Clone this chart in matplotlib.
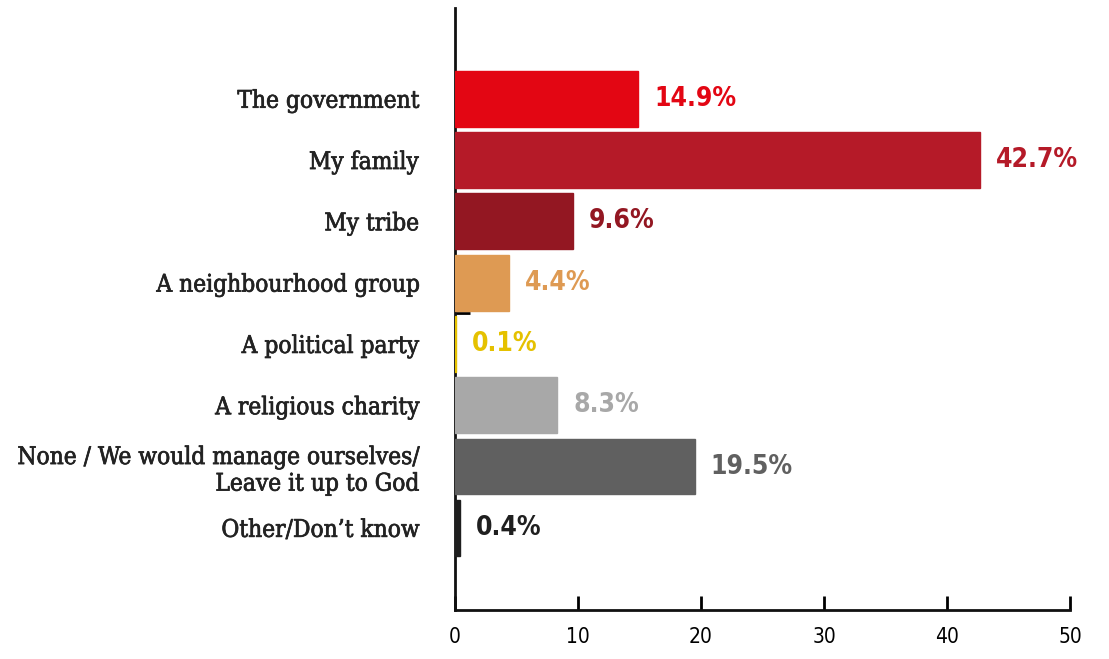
import matplotlib
matplotlib.use("Agg")
import matplotlib.pyplot as plt
import matplotlib.patheffects as pe

categories = [
    "The government",
    "My family",
    "My tribe",
    "A neighbourhood group",
    "A political party",
    "A religious charity",
    "None / We would manage ourselves/\nLeave it up to God",
    "Other/Don\u2019t know",
]
values = [14.9, 42.7, 9.6, 4.4, 0.1, 8.3, 19.5, 0.4]
bar_colors = ["#e30613", "#b51a28", "#931722", "#de9a53",
              "#e5c100", "#a8a8a8", "#606060", "#1f1f1f"]
x_ticks = [0, 10, 20, 30, 40, 50]

label_font = "DejaVu Serif"
num_font = "DejaVu Sans"

fig = plt.figure(figsize=(11.09, 6.59), dpi=100)
ax = fig.add_axes([455 / 1109, 1 - 610 / 659, 615 / 1109, 602 / 659])

pos = list(range(len(categories)))
ax.barh(pos, values, height=0.91, color=bar_colors, edgecolor=bar_colors,
        linewidth=1, zorder=3)

for p, v, c in zip(pos, values, bar_colors):
    ax.text(v + 1.3, p, f"{v}%", va="center", ha="left", color=c,
            fontsize=19, fontweight="bold", family=num_font,
            fontstretch="condensed")

ax.set_xlim(0, 50)
ax.set_ylim(8.34, -1.48)
ax.set_xticks(x_ticks)
ax.set_xticklabels([str(t) for t in x_ticks], family=num_font, fontsize=15,
                   fontstretch="condensed")
ax.tick_params(axis="x", direction="in", length=10, width=2, pad=12)

ax.set_yticks(pos)
labels = ax.set_yticklabels(categories, family=label_font, fontsize=17.5,
                            fontstretch="condensed", color="#222222",
                            linespacing=1.2)
# a thin stroke to make the serif labels a little heavier
for t in labels:
    t.set_path_effects([pe.withStroke(linewidth=0.5, foreground="#222222")])
ax.tick_params(axis="y", length=0, pad=26)
ax.set_yticks([3.5], minor=True)
ax.tick_params(axis="y", which="minor", direction="in", length=11, width=2)

for s in ["top", "right"]:
    ax.spines[s].set_visible(False)
for s in ["left", "bottom"]:
    ax.spines[s].set_linewidth(2)
    ax.spines[s].set_color("#111111")

fig.savefig("out.png", dpi=100)
